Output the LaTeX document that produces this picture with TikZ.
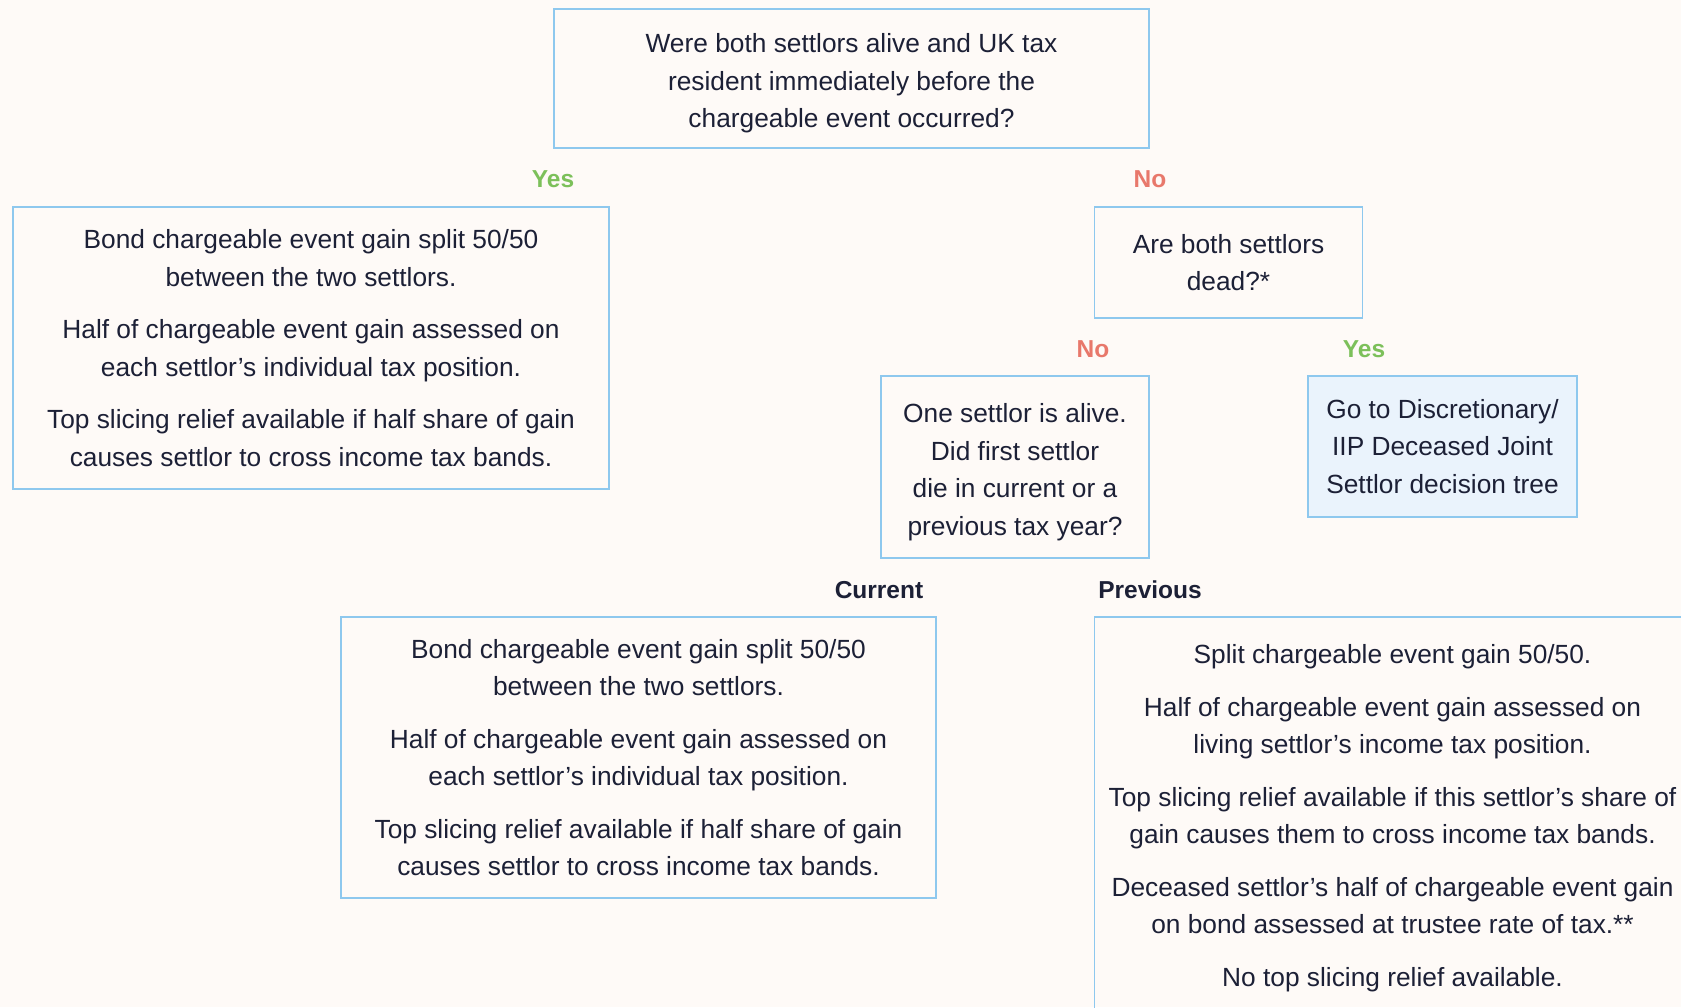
\documentclass[tikz,border=0pt]{standalone}
\usepackage{fontspec}
\setmainfont{Liberation Sans}
\definecolor{bg}{HTML}{FEFAF7}
\definecolor{bord}{HTML}{8EC8EE}
\definecolor{txt}{HTML}{1C2036}
\definecolor{yesc}{HTML}{7CC05A}
\definecolor{noc}{HTML}{E8786B}
\definecolor{fillb}{HTML}{EAF3FC}
\newcommand\tstrut{\rule{0pt}{29.3pt}}
\begin{document}
\begin{tikzpicture}[x=1pt,y=-1pt,
  box/.style={draw=bord,line width=1.5pt,rectangle,inner sep=0pt,align=center,text=txt,
    font=\fontsize{26.3}{37.5}\selectfont},
  yeslab/.style={text=yesc,font=\fontsize{24.5}{30}\selectfont\bfseries},
  nolab/.style={text=noc,font=\fontsize{24.5}{30}\selectfont\bfseries},
  branchlab/.style={text=txt,font=\fontsize{24.5}{30}\selectfont\bfseries}]
\useasboundingbox (0,0) rectangle (1681,1007);
\fill[bg] (0,0) rectangle (1681,1007);
\clip (0,0) rectangle (1681,1007);

\node[box,minimum width=595pt,minimum height=139pt] (q1) at (851.5,78.3)
  {\tstrut Were both settlors alive and UK tax\\resident immediately before the\\chargeable event occurred?};

\node[yeslab] (y1) at (553,179) {Yes};
\node[nolab] (n1) at (1150,179) {No};

\node[box,minimum width=596pt,minimum height=282pt] (a1) at (311,348)
  {Bond chargeable event gain split 50/50\\between the two settlors.\\[15pt]
   Half of chargeable event gain assessed on\\each settlor’s individual tax position.\\[15pt]
   Top slicing relief available if half share of gain\\causes settlor to cross income tax bands.};

\node[box,minimum width=268pt,minimum height=111pt] (q2) at (1228.5,262.5)
  {Are both settlors\\dead?*};

\node[nolab] (n2) at (1093,349) {No};
\node[yeslab] (y2) at (1364,349) {Yes};

\node[box,minimum width=268pt,minimum height=182pt] (q3) at (1015,467)
  {\tstrut One settlor is alive.\\Did first settlor\\die in current or a\\previous tax year?};

\node[box,fill=fillb,minimum width=269pt,minimum height=141pt] (a2) at (1442.5,446.5)
  {Go to Discretionary/\\IIP Deceased Joint\\Settlor decision tree};

\node[branchlab] (cur) at (879,590) {Current};
\node[branchlab] (prev) at (1150,590) {Previous};

\node[box,minimum width=595pt,minimum height=281pt] (a3) at (638.5,757.5)
  {Bond chargeable event gain split 50/50\\between the two settlors.\\[15pt]
   Half of chargeable event gain assessed on\\each settlor’s individual tax position.\\[15pt]
   Top slicing relief available if half share of gain\\causes settlor to cross income tax bands.};

\node[box,minimum width=596pt,minimum height=402pt] (a4) at (1392.5,818)
  {Split chargeable event gain 50/50.\\[15pt]
   Half of chargeable event gain assessed on\\living settlor’s income tax position.\\[15pt]
   Top slicing relief available if this settlor’s share of\\gain causes them to cross income tax bands.\\[15pt]
   Deceased settlor’s half of chargeable event gain\\on bond assessed at trustee rate of tax.**\\[15pt]
   No top slicing relief available.};
\end{tikzpicture}
\end{document}
